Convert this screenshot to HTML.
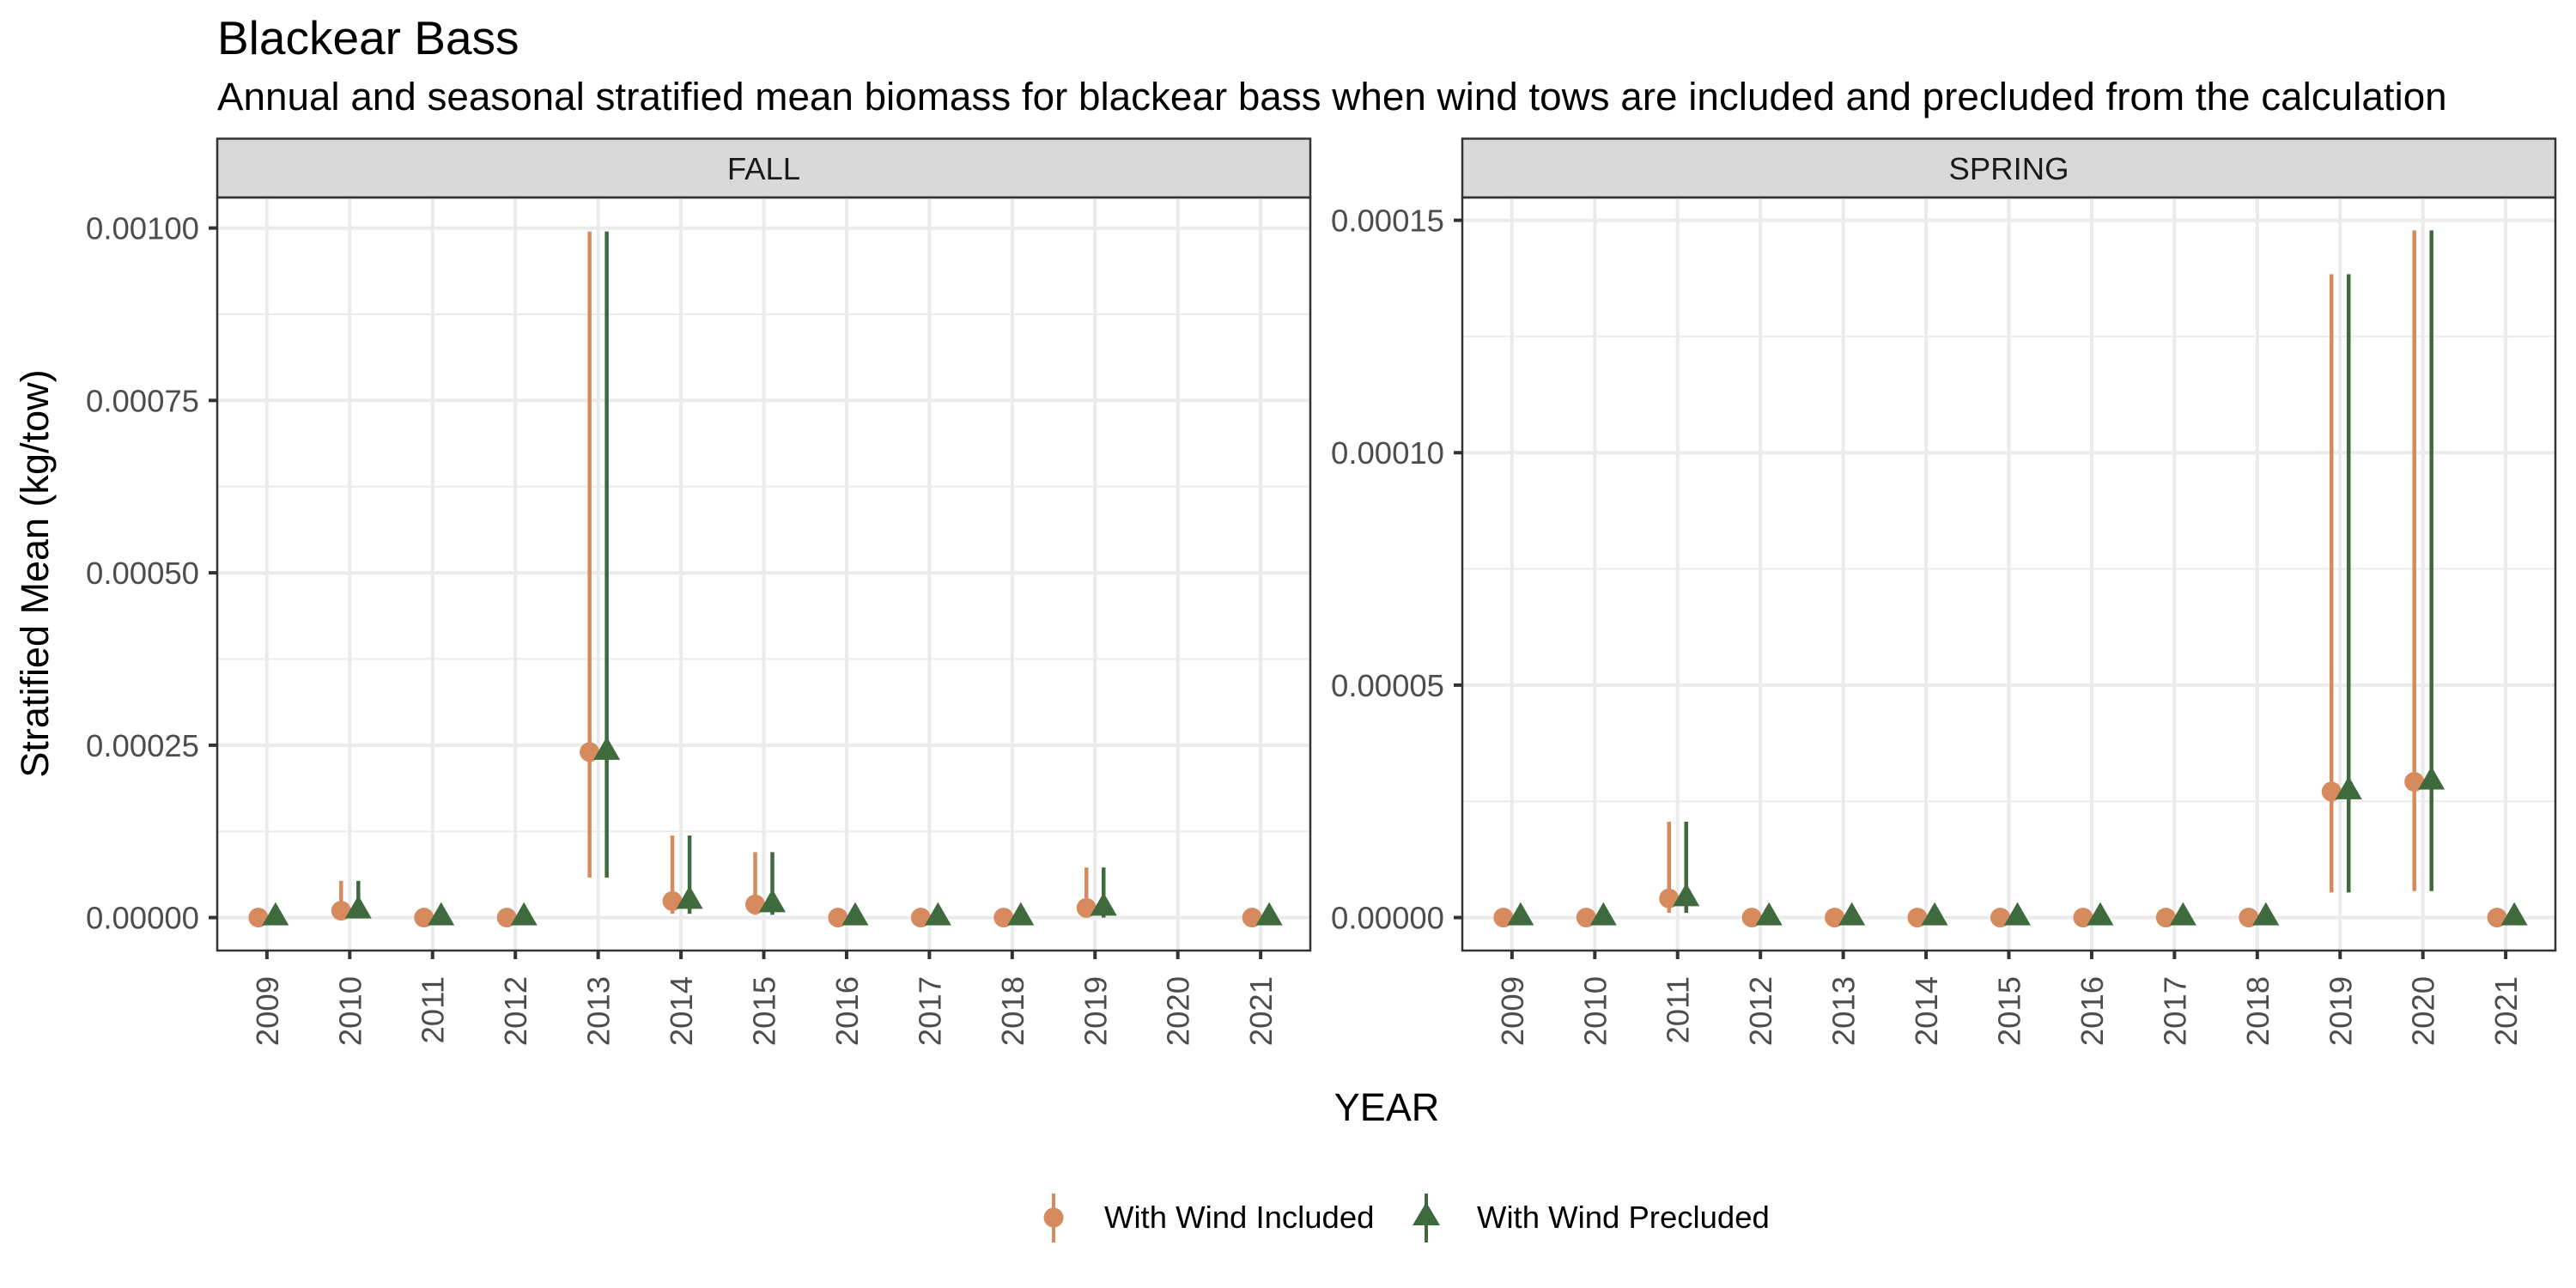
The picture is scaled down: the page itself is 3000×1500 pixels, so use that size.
<!DOCTYPE html>
<html><head><meta charset="utf-8"><style>
html,body{margin:0;padding:0;background:#fff;}
svg{display:block;font-family:"Liberation Sans",Arial,sans-serif;}
</style></head><body>
<svg id="chart" width="3000" height="1500" viewBox="0 0 3000 1500" xmlns="http://www.w3.org/2000/svg">
<text x="253" y="63" font-size="55" fill="#000">Blackear Bass</text>
<text x="253" y="128" font-size="45.8" fill="#000">Annual and seasonal stratified mean biomass for blackear bass when wind tows are included and precluded from the calculation</text>
<text transform="translate(56,668) rotate(-90)" text-anchor="middle" font-size="45" fill="#000">Stratified Mean (kg/tow)</text>
<text x="1615" y="1305" text-anchor="middle" font-size="45" fill="#000">YEAR</text>
<g id="panels"></g>
<g>
  <g>
    <line x1="1227" y1="1390" x2="1227" y2="1447" stroke="#D68A5E" stroke-width="4"/>
    <circle cx="1227" cy="1418" r="11.5" fill="#D68A5E"/>
    <text x="1286" y="1430" font-size="36.5" fill="#000">With Wind Included</text>
  </g>
  <g>
    <line x1="1661" y1="1390" x2="1661" y2="1447" stroke="#3E6A3E" stroke-width="4"/>
    <polygon points="1661,1400 1677,1427 1645,1427" fill="#3E6A3E"/>
    <text x="1720" y="1430" font-size="36.5" fill="#000">With Wind Precluded</text>
  </g>
</g>
</svg>
<script>
const years = [2009,2010,2011,2012,2013,2014,2015,2016,2017,2018,2019,2020,2021];
// FALL (null = no data)
const fallMean  = [0, 0.00001, 0, 0, 0.00024, 0.000024, 0.000019, 0, 0, 0, 0.000014, null, 0];
const fallLower = [0, 0, 0, 0, 0.000058, 0.0000055, 0.000004, 0, 0, 0, 0, null, 0];
const fallUpper = [0, 0.0000533, 0, 0, 0.000995, 0.000119, 0.000095, 0, 0, 0, 0.0000727, null, 0];
const fallTicks = [0, 0.00025, 0.0005, 0.00075, 0.001];
const fallTickLabels = ["0.00000","0.00025","0.00050","0.00075","0.00100"];
// SPRING
const springMean  = [0, 0, 0.0000041, 0, 0, 0, 0, 0, 0, 0, 0.0000271, 0.0000292, 0];
const springLower = [0, 0, 0.000001, 0, 0, 0, 0, 0, 0, 0, 0.0000054, 0.0000057, 0];
const springUpper = [0, 0, 0.0000206, 0, 0, 0, 0, 0, 0, 0, 0.0001384, 0.0001478, 0];
const springTicks = [0, 0.00005, 0.0001, 0.00015];
const springTickLabels = ["0.00000","0.00005","0.00010","0.00015"];

const NS = "http://www.w3.org/2000/svg";
const root = document.getElementById('panels');
const ORANGE = "#D68A5E", GREEN = "#3E6A3E";
function mk(tag, attrs, parent){
  const e = document.createElementNS(NS, tag);
  for (const k in attrs) e.setAttribute(k, attrs[k]);
  (parent||root).appendChild(e);
  return e;
}
function drawPanel(name, label, left, right, ymin, ymax, mean, lower, upper, ticks, tickLabels){
  const top = 230, bottom = 1107;
  const g = mk('g', {});
  
  
  const unit = (right-left)/(years.length - 1 + 1.2);
  const xs = i => left + (0.6 + i) * unit;
  const ys = v => bottom - (v - ymin) / (ymax - ymin) * (bottom - top);
  const strip = mk('rect', {x:left, y:161.5, width:right-left, height:top-161.5, fill:'#D9D9D9', stroke:'#333', 'stroke-width':2.5}, g);
  
  
  const st = mk('text', {x:(left+right)/2, y:209, 'text-anchor':'middle', 'font-size':36.5, fill:'#1A1A1A'}, g);
  st.textContent = label;
  
  
  for (let i=0;i<ticks.length-1;i++){
    const mv = (ticks[i]+ticks[i+1])/2;
    mk('line', {x1:left, x2:right, y1:ys(mv), y2:ys(mv), stroke:'#EBEBEB', 'stroke-width':2}, g);
  }
  ticks.forEach((t,i)=>{
    const y = ys(t);
    mk('line', {x1:left, x2:right, y1:y, y2:y, stroke:'#EBEBEB', 'stroke-width':4}, g);
    mk('line', {x1:left-10, x2:left, y1:y, y2:y, stroke:'#333', 'stroke-width':4}, g);
    const tl = mk('text', {x:left-21, y:y+13, 'text-anchor':'end', 'font-size':36.5, fill:'#4D4D4D'}, g);
    tl.textContent = tickLabels[i];
    
    
  });
  years.forEach((yr,i)=>{
    const x = xs(i);
    mk('line', {x1:x, x2:x, y1:top, y2:bottom, stroke:'#EBEBEB', 'stroke-width':4}, g);
    mk('line', {x1:x, x2:x, y1:bottom, y2:bottom+10, stroke:'#333', 'stroke-width':4}, g);
    const xl = mk('text', {transform:`translate(${x+13},1137) rotate(-90)`, 'text-anchor':'end', 'font-size':36.5, fill:'#4D4D4D'}, g);
    xl.textContent = yr;
    
    
  });
  years.forEach((yr,i)=>{
    if (mean[i] === null) return;
    const xc = xs(i) - 10, xt = xs(i) + 10;
    if (upper[i] > lower[i]) {
      const e1 = mk('line', {x1:xc, x2:xc, y1:ys(lower[i]), y2:ys(upper[i]), stroke:ORANGE, 'stroke-width':4.5}, g);
      
      
      const e2 = mk('line', {x1:xt, x2:xt, y1:ys(lower[i]), y2:ys(upper[i]), stroke:GREEN, 'stroke-width':4.5}, g);
      
      
    }
    const c = mk('circle', {cx:xc, cy:ys(mean[i]), r:11.5, fill:ORANGE}, g);
    
    
    const y = ys(mean[i]);
    const t = mk('polygon', {points:`${xt},${y-18} ${xt+15.5},${y+9} ${xt-15.5},${y+9}`, fill:GREEN}, g);
    
    
  });
  mk('rect', {x:left, y:top, width:right-left, height:bottom-top, fill:'none', stroke:'#333', 'stroke-width':2.5}, g);
}
drawPanel('fall', 'FALL', 253, 1526, -0.0000478, 0.0010443, fallMean, fallLower, fallUpper, fallTicks, fallTickLabels);
drawPanel('spring', 'SPRING', 1703, 2976, -0.0000071, 0.0001549, springMean, springLower, springUpper, springTicks, springTickLabels);
</script>
</body></html>
